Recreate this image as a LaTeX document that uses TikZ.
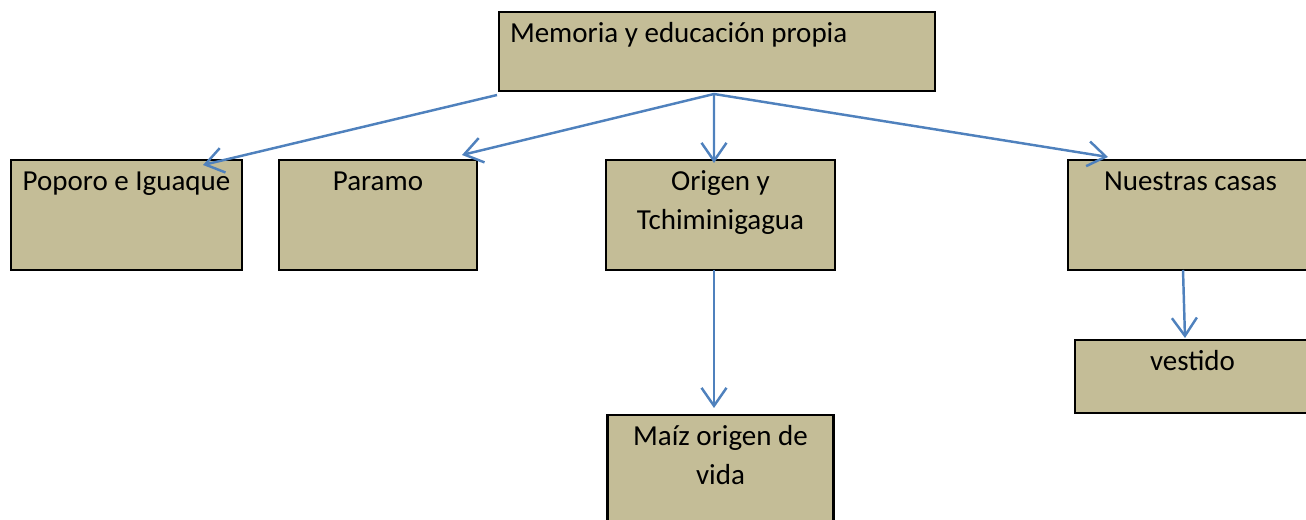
\documentclass[tikz,border=0pt]{standalone}
\usepackage{fontspec}
\setmainfont{Carlito}
\usetikzlibrary{positioning,arrows.meta}
\definecolor{caja}{HTML}{C4BD97}
\definecolor{flecha}{HTML}{4F81BD}
\newcommand{\texto}[4][\centering]{\parbox[t][#3][t]{#2}{#1\rule{0pt}{.61cm}#4}}

\begin{document}
\begin{tikzpicture}[line width=1.4pt,>={Straight Barb[length=.36cm,width=.5cm]}]
      \tikzstyle{every node}=[inner sep=0pt,outer sep=0pt,font=\fontsize{16.5}{22.2}\selectfont]
      \tikzstyle{tema}=[draw=black,line width=1.5pt,fill=caja]
      \tikzstyle{enlace}=[->,color=flecha]
      \useasboundingbox (0,0) rectangle (26.12,-10.4);
      %
      \node [tema,anchor=north west] (memoria) at (9.98,-.24)
            {\texto[\raggedright\hspace*{.22cm}]{8.72cm}{1.58cm}{Memoria y educación propia}};
      \node [tema,anchor=north west] (poporo) at (.22,-3.2)
            {\texto{4.62cm}{2.2cm}{Poporo e Iguaque}};
      \node [tema] (paramo)  [right=.74cm of poporo]  {\texto{3.96cm}{2.2cm}{Paramo}};
      \node [tema] (origen)  [right=2.58cm of paramo] {\texto{4.58cm}{2.2cm}{Origen y\\Tchiminigagua}};
      \node [tema] (casas)   [right=4.66cm of origen] {\texto{4.9cm}{2.2cm}{Nuestras casas}};
      \node [tema] (maiz)    [below=2.9cm of origen]  {\texto{4.52cm}{2.2cm}{Maíz origen de\\vida}};
      \node [tema] (vestido) [below=1.4cm of casas,xshift=.09cm] {\texto{4.8cm}{1.46cm}{\hspace*{-.1cm}vestido}};
      %
      \coordinate (centro) at ([xshift=-.06cm,yshift=-.06cm]memoria.south);
      \path[enlace]
      ([xshift=-.04cm,yshift=-.08cm]memoria.south west) edge ([xshift=-.78cm,yshift=-.1cm]poporo.north east)
      (centro)                      edge ([xshift=-.3cm,yshift=.1cm]paramo.north east)
      (centro)                      edge ([xshift=-.13cm,yshift=-.06cm]origen.north)
      (centro)                      edge ([xshift=.8cm,yshift=.06cm]casas.north west)
      ([xshift=-.13cm]origen.south) edge ([xshift=-.13cm,yshift=.14cm]maiz.north)
      ([xshift=-.15cm]casas.south)  edge ([xshift=-.2cm,yshift=.04cm]vestido.north);
    \end{tikzpicture}
\end{document}
